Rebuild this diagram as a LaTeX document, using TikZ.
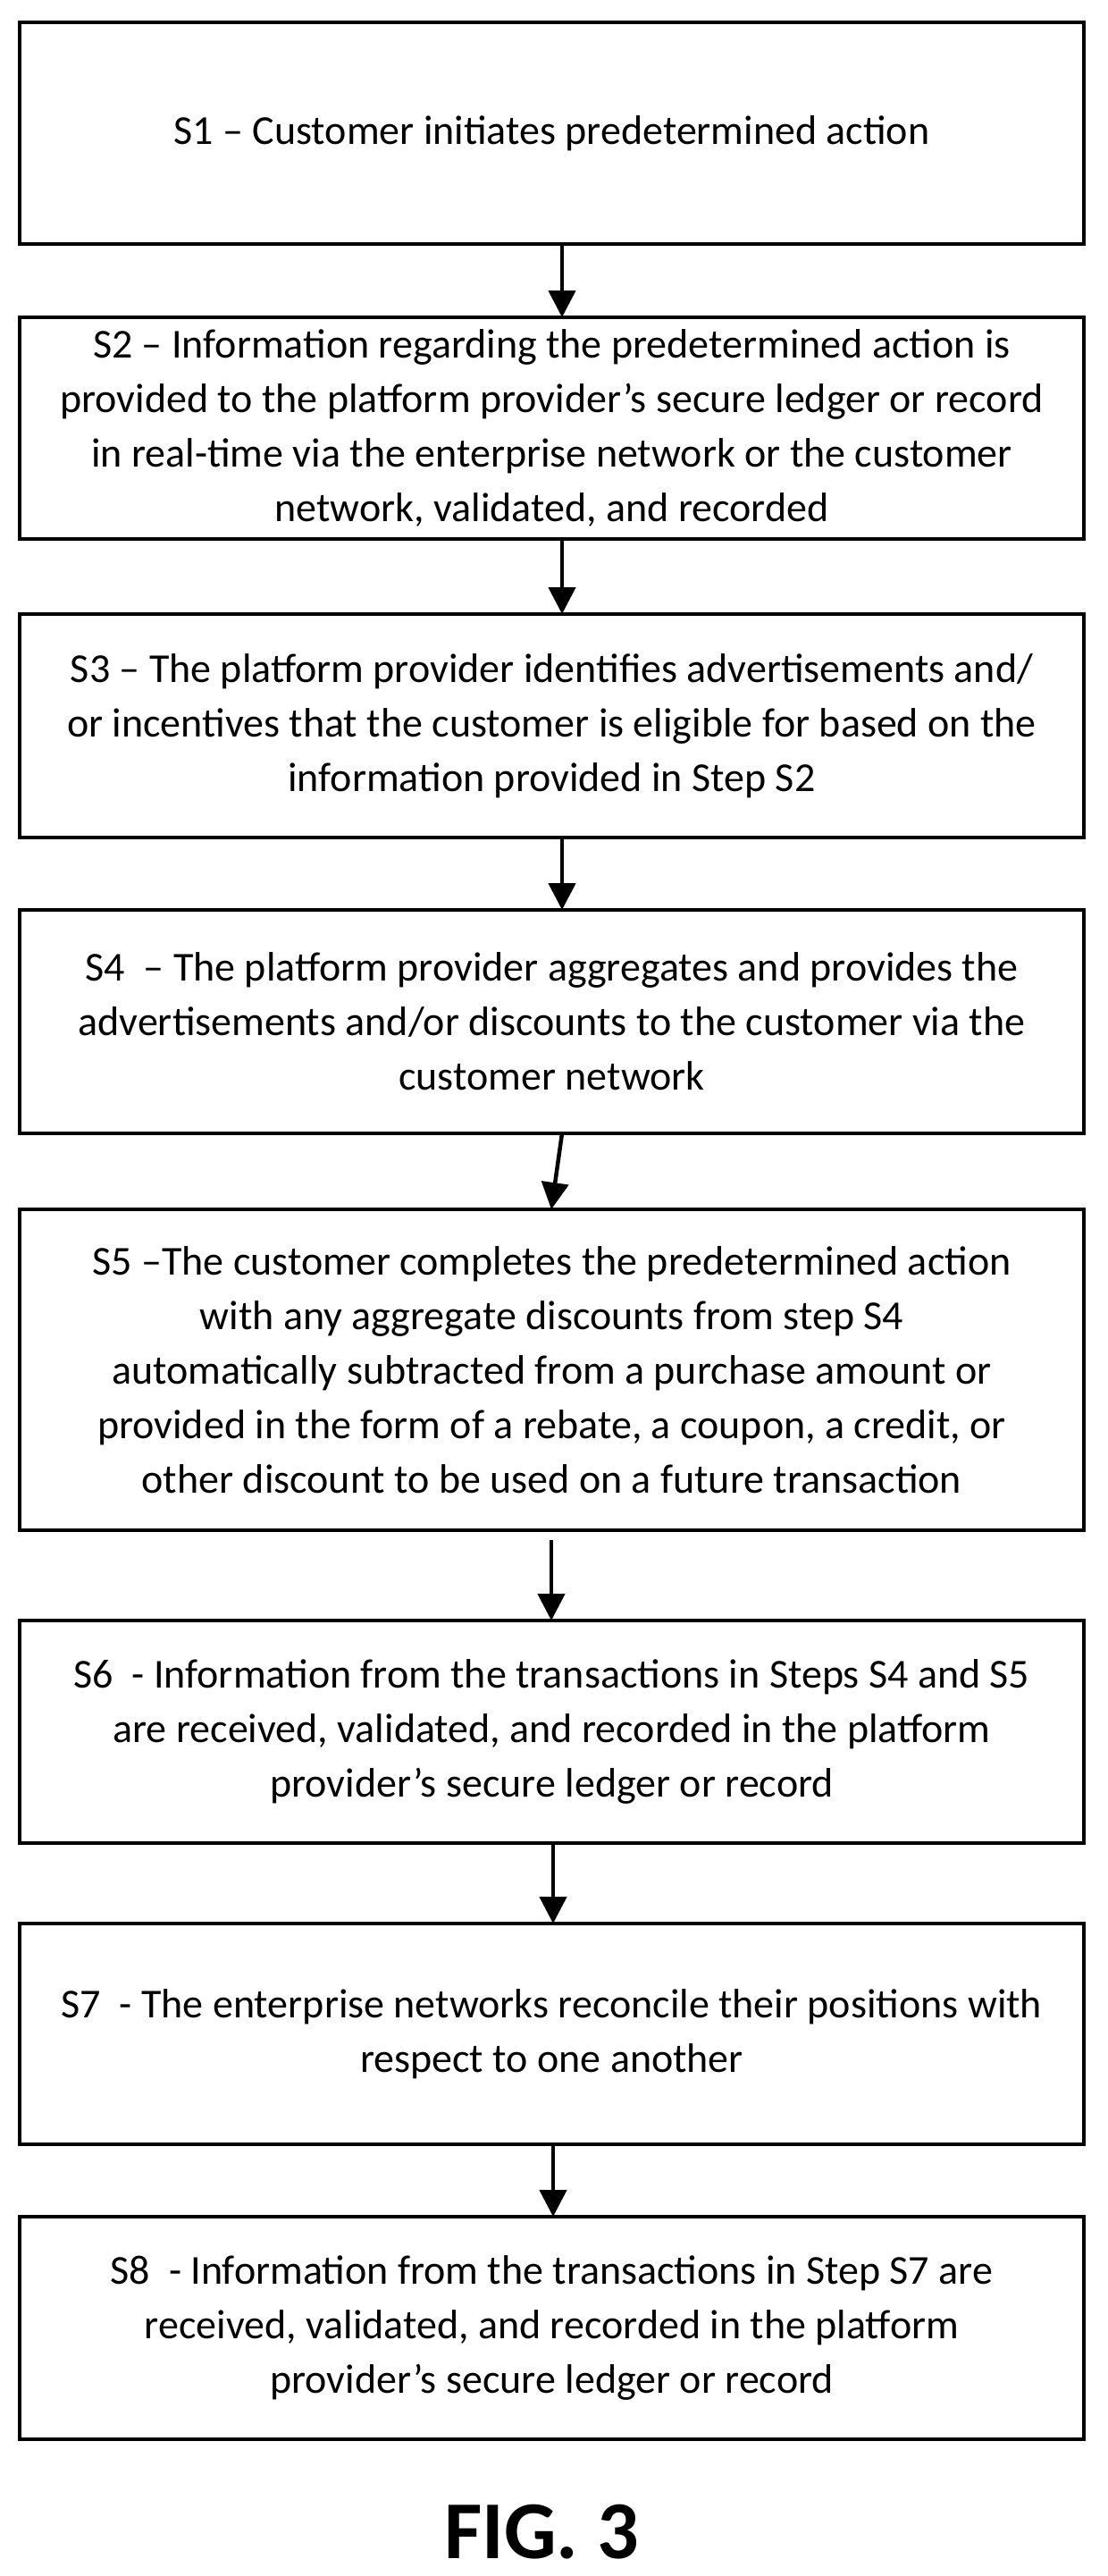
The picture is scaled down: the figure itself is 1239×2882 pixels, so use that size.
\documentclass[tikz,border=0pt]{standalone}
\usepackage{fontspec}
\setmainfont{Carlito}
\usetikzlibrary{arrows.meta}
\begin{document}
\begin{tikzpicture}[x=1pt,y=-1pt,
  stepbox/.style={draw,line width=4pt,inner sep=0pt},
  txt/.style={align=center,font=\fontsize{46}{61}\selectfont},
  arr/.style={line width=4.5pt,-{Triangle[length=30pt,width=30pt]}}]
\useasboundingbox (0,0) rectangle (1239,2882);
\def\bx#1#2#3#4#5{\draw[stepbox] (22,#2) rectangle (1213,#3);
  \node[txt] (#1) at (617.5,{(#2+#3)/2}) {#4};
  \coordinate (#1t) at (#5,#2); \coordinate (#1b) at (#5,#3);}
\bx{a}{25}{273}{S1 -- Customer initiates predetermined action}{629}
\bx{b}{355}{603}{S2 -- Information regarding the predetermined action is\\provided to the platform provider’s secure ledger or record\\in real-time via the enterprise network or the customer\\network, validated, and recorded}{629}
\bx{c}{687}{937}{S3 -- The platform provider identifies advertisements and/\\or incentives that the customer is eligible for based on the\\information provided in Step S2}{629}
\bx{d}{1018}{1268}{S4\ \ -- The platform provider aggregates and provides the\\advertisements and/or discounts to the customer via the\\customer network}{629}
\bx{e}{1353}{1712}{S5 --The customer completes the predetermined action\\with any aggregate discounts from step S4\\automatically subtracted from a purchase amount or\\provided in the form of a rebate, a coupon, a credit, or\\other discount to be used on a future transaction}{617}
\bx{f}{1813}{2062}{S6\ \ - Information from the transactions in Steps S4 and S5\\are received, validated, and recorded in the platform\\provider’s secure ledger or record}{619}
\bx{g}{2152}{2399}{S7\ \ - The enterprise networks reconcile their positions with\\respect to one another}{619}
\bx{h}{2480}{2729}{S8\ \ - Information from the transactions in Step S7 are\\received, validated, and recorded in the platform\\provider’s secure ledger or record}{619}
\coordinate (e5) at (617,1723);
\draw[arr] (ab) -- (bt);
\draw[arr] (bb) -- (ct);
\draw[arr] (cb) -- (dt);
\draw[arr] (db) -- (et);
\draw[arr] (e5) -- (617,1813);
\draw[arr] (fb) -- (gt);
\draw[arr] (gb) -- (ht);
\node[font=\fontsize{92}{100}\selectfont\bfseries] (fig) at (606,2833) {FIG. 3};
\end{tikzpicture}
\end{document}
